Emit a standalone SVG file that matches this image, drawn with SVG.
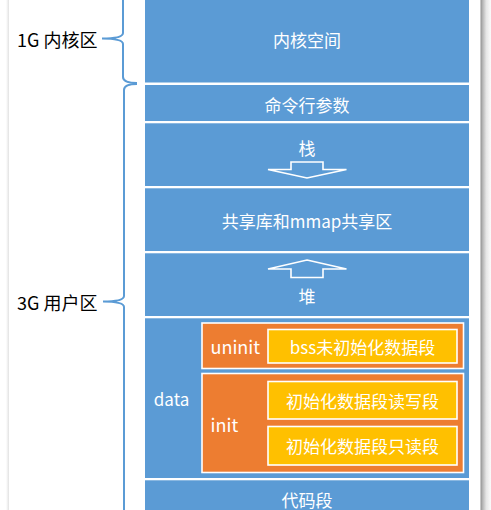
<svg xmlns="http://www.w3.org/2000/svg" width="491" height="510" viewBox="0 0 491 510">
<defs>
<linearGradient id="shR" x1="0" y1="0" x2="1" y2="0">
<stop offset="0" stop-color="#8f8f8f"/>
<stop offset="0.2" stop-color="#b5b5b5"/>
<stop offset="0.55" stop-color="#e6e6e6"/>
<stop offset="1" stop-color="#fbfbfb"/>
</linearGradient>
<linearGradient id="shL" x1="0" y1="0" x2="1" y2="0">
<stop offset="0" stop-color="#ffffff"/>
<stop offset="1" stop-color="#e2e2e2"/>
</linearGradient>
</defs>
<style>
.seg{fill:#5B9BD5;}
.org{fill:#ED7D31;stroke:#ffffff;stroke-width:1.6;}
.yel{fill:#FFC000;stroke:#ffffff;stroke-width:1.6;}
.arr{fill:#5B9BD5;stroke:#ffffff;stroke-width:1.6;stroke-linejoin:miter;}
.t{font-family:"Noto Sans CJK SC","Microsoft YaHei",sans-serif;font-size:17px;fill:#ffffff;dominant-baseline:central;text-anchor:middle;}
.ts{text-anchor:start;font-size:18px;}
.lbl{font-family:"Noto Sans CJK SC","Microsoft YaHei",sans-serif;font-size:18px;fill:#000000;dominant-baseline:central;}
.brace{fill:none;stroke:#5B9BD5;stroke-width:2;}
</style>
<rect x="0" y="0" width="491" height="510" fill="#ffffff"/>
<rect x="6" y="0" width="3" height="510" fill="url(#shL)"/>
<rect x="480.5" y="0" width="10.5" height="510" fill="url(#shR)"/>

<g id="connectors">
<path class="brace" d="M137,-6 Q123,-6 123,0 L123,33 Q123,38.5 102,38.5 Q123,38.5 123,44 L123,77 Q123,83 137,83"/>
<path class="brace" d="M137,84 Q124,84 124,90 L124,296 Q124,301.5 103,301.5 Q124,301.5 124,307 L124,520"/>
</g>

<g id="label-kernel"><text class="lbl" x="17" y="38.5">1G 内核区</text></g>
<g id="label-user"><text class="lbl" x="17" y="302">3G 用户区</text></g>

<g id="kernel-space">
<rect class="seg" x="145" y="0" width="324" height="82.5"/>
<text class="t" x="307" y="39">内核空间</text>
</g>
<g id="cmdline">
<rect class="seg" x="145" y="85" width="324" height="36"/>
<text class="t" x="307" y="104">命令行参数</text>
</g>
<g id="stack">
<rect class="seg" x="145" y="123.3" width="324" height="62.7"/>
<text class="t" x="307" y="147">栈</text>
<polygon class="arr" points="291,162 323,162 323,169.5 346.5,169.5 307,178 268,169.5 291,169.5"/>
</g>
<g id="mmap">
<rect class="seg" x="145" y="188.3" width="324" height="62.7"/>
<text class="t" x="307" y="220">共享库和mmap共享区</text>
</g>
<g id="heap">
<rect class="seg" x="145" y="253.3" width="324" height="62.7"/>
<polygon class="arr" points="307,260 346.5,269 323,269 323,277.5 291,277.5 291,269 268,269"/>
<text class="t" x="307" y="295.5">堆</text>
</g>
<g id="data">
<rect class="seg" x="145" y="318.3" width="324" height="159.7"/>
<text class="t" x="171.5" y="398.5">data</text>
</g>
<g id="uninit">
<rect class="org" x="202" y="323" width="261.5" height="45.5"/>
<text class="t ts" x="210.5" y="346">uninit</text>
</g>
<g id="bss">
<rect class="yel" x="268" y="329.5" width="189" height="33.5"/>
<text class="t" x="362.5" y="346">bss未初始化数据段</text>
</g>
<g id="init">
<rect class="org" x="202" y="373.5" width="261.5" height="99"/>
<text class="t ts" x="210.5" y="423.5">init</text>
</g>
<g id="init-rw">
<rect class="yel" x="268" y="381.5" width="189" height="37.5"/>
<text class="t" x="362.5" y="400">初始化数据段读写段</text>
</g>
<g id="init-ro">
<rect class="yel" x="268" y="426.5" width="189" height="38.5"/>
<text class="t" x="362.5" y="445">初始化数据段只读段</text>
</g>
<g id="text-seg">
<rect class="seg" x="145" y="480.3" width="324" height="35"/>
<text class="t" x="307" y="499.5">代码段</text>
</g>
</svg>
